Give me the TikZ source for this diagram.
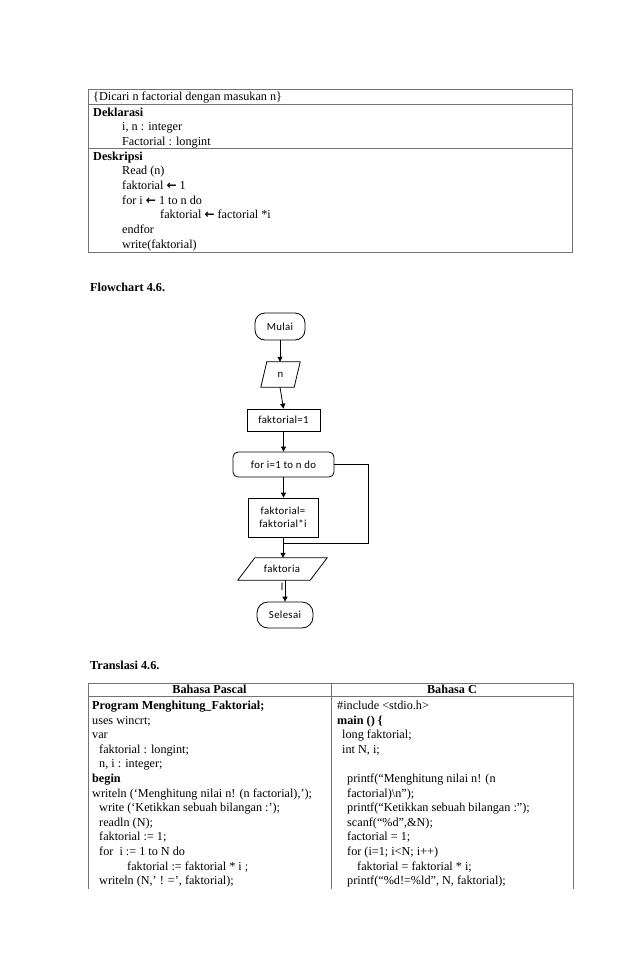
\documentclass[tikz,border=0pt]{standalone}
\usepackage{fontspec}
\setmainfont{Liberation Serif}
\newfontfamily\calibri[LetterSpace=3]{Carlito}
\newfontfamily\djv{DejaVu Sans}
\usetikzlibrary{arrows.meta}
\newcommand{\la}{{\djv\bfseries\fontsize{12}{12}\selectfont ←}}
\begin{document}
\begin{tikzpicture}[x=1pt,y=-1pt,
  txt/.style={anchor=base west, inner sep=0, font=\fontsize{12.2}{14.6}\selectfont},
  btxt/.style={anchor=base west, inner sep=0, font=\fontsize{12.2}{14.6}\selectfont\bfseries},
  hdr/.style={anchor=base, inner sep=0, font=\fontsize{12.2}{14.6}\selectfont\bfseries},
  tline/.style={draw=black!55, line width=0.8pt},
  ff/.style={font=\calibri\fontsize{10.8}{13.5}\selectfont},
  fbox/.style={ff, draw, line width=0.8pt, inner sep=0},
  fline/.style={line width=0.8pt},
  arr/.style={fline, -{Triangle[length=5pt,width=5pt]}}]
\useasboundingbox (0,0) rectangle (638,977);
\fill[white] (0,0) rectangle (638,977);

% ---------- top table ----------
\draw[tline] (88,89) rectangle (572,252);
\draw[tline] (88,104) -- (572,104);
\draw[tline] (88,148) -- (572,148);
\node[txt] (a0) at (93,100.5) {\{Dicari n factorial dengan masukan n\}};
\node[btxt] (a1) at (93,116) {Deklarasi};
\node[txt] (a2) at (122,130.7) {i, n : integer};
\node[txt] (a3) at (122,145.4) {Factorial : longint};
\node[btxt] (a4) at (93,160.1) {Deskripsi};
\node[txt] (a5) at (122,174.8) {Read (n)};
\node[txt] (a6) at (122,189.5) {faktorial \la{} 1};
\node[txt] (a7) at (122,204.2) {for i \la{} 1 to n do};
\node[txt] (a8) at (160,218.9) {faktorial \la{} factorial *i};
\node[txt] (a9) at (122,233.6) {endfor};
\node[txt] (a10) at (122,248.3) {write(faktorial)};

% ---------- flowchart ----------
\node[btxt] (fl) at (90,291) {Flowchart 4.6.};
\node[fbox, rounded corners=10pt, minimum width=50, minimum height=27] (mulai) at (280,326.5) {Mulai};
\node[ff, inner sep=0, minimum width=39, minimum height=25] (n) at (280.5,374.5) {n};
\draw[fline] (n.south west) -- ([xshift=-6pt]n.south east) -- (n.north east) -- ([xshift=6pt]n.north west) -- cycle;
\node[fbox, minimum width=73, minimum height=22] (f1) at (283.5,420) {faktorial=1};
\node[fbox, rounded corners=5pt, minimum width=101, minimum height=25] (for) at (283.5,464.5) {for i=1 to n do};
\node[fbox, minimum width=70, minimum height=39, align=center] (body) at (283,517.5) {faktorial=\\faktorial*i};
\node[inner sep=0, minimum width=89, minimum height=22] (out) at (282.5,569) {};
\draw[fline] (out.south west) -- ([xshift=-17pt]out.south east) -- (out.north east) -- ([xshift=17pt]out.north west) -- cycle;
\node[ff, anchor=base, inner sep=0] (o1) at (282,572.5) {faktoria};
\node[ff, anchor=base, inner sep=0] (o2) at (282,590) {l};
\node[fbox, rounded corners=11pt, minimum width=56, minimum height=26] (sel) at (285,615) {Selesai};

\draw[arr] (mulai.south) -- (mulai.south |- n.north);
\draw[arr] (mulai.south |- n.south) -- (f1.north);
\draw[arr] (f1.south) -- (for.north);
\draw[arr] (for.south) -- (for.south |- body.north);
\coordinate (lc) at (368,543);
\draw[fline] (for.east) -| (lc) -- (body.south |- lc);
\draw[arr] (body.south) -- (body.south |- out.north);
\draw[arr] (sel.north |- out.south) -- (sel.north);

% ---------- translation table ----------
\node[btxt] (tr) at (90,669) {Translasi 4.6.};
\draw[tline] (88,889) -- (88,683.5) -- (573,683.5) -- (573,889);
\draw[tline] (331,683.5) -- (331,889);
\draw[tline] (88,696.5) -- (573,696.5);
\node[hdr] (hp) at (209.5,693.5) {Bahasa Pascal};
\node[hdr] (hc) at (452,693.5) {Bahasa C};

\node[btxt] (p0) at (92,709.5) {Program Menghitung\_Faktorial;};
\node[txt] (p1) at (92,724.1) {uses wincrt;};
\node[txt] (p2) at (92,738.7) {var};
\node[txt] (p3) at (99,753.3) {faktorial : longint;};
\node[txt] (p4) at (99,767.9) {n, i : integer;};
\node[btxt] (p5) at (92,782.5) {begin};
\node[txt] (p6) at (92,797.1) {writeln (‘Menghitung nilai n! (n factorial),’);};
\node[txt] (p7) at (99,811.7) {write (‘Ketikkan sebuah bilangan :’);};
\node[txt] (p8) at (99,826.3) {readln (N);};
\node[txt] (p9) at (99,840.9) {faktorial := 1;};
\node[txt] (p10) at (99,855.5) {for\ \ i := 1 to N do};
\node[txt] (p11) at (127,870.1) {faktorial := faktorial * i ;};
\node[txt] (p12) at (99,884.7) {writeln (N,’ ! =’, faktorial);};

\node[txt] (c0) at (337,709.5) {\#include <stdio.h>};
\node[btxt] (c1) at (337,724.1) {main () \{};
\node[txt] (c2) at (342,738.7) {long faktorial;};
\node[txt] (c3) at (342,753.3) {int N, i;};
\node[txt] (c5) at (347,782.5) {printf(“Menghitung nilai n! (n};
\node[txt] (c6) at (347,797.1) {factorial)\textbackslash n”);};
\node[txt] (c7) at (347,811.7) {printf(“Ketikkan sebuah bilangan :”);};
\node[txt] (c8) at (347,826.3) {scanf(“\%d”,\&N);};
\node[txt] (c9) at (347,840.9) {factorial = 1;};
\node[txt] (c10) at (347,855.5) {for (i=1; i<N; i++)};
\node[txt] (c11) at (357,870.1) {faktorial = faktorial * i;};
\node[txt] (c12) at (347,884.7) {printf(“\%d!=\%ld”, N, faktorial);};
\end{tikzpicture}
\end{document}
